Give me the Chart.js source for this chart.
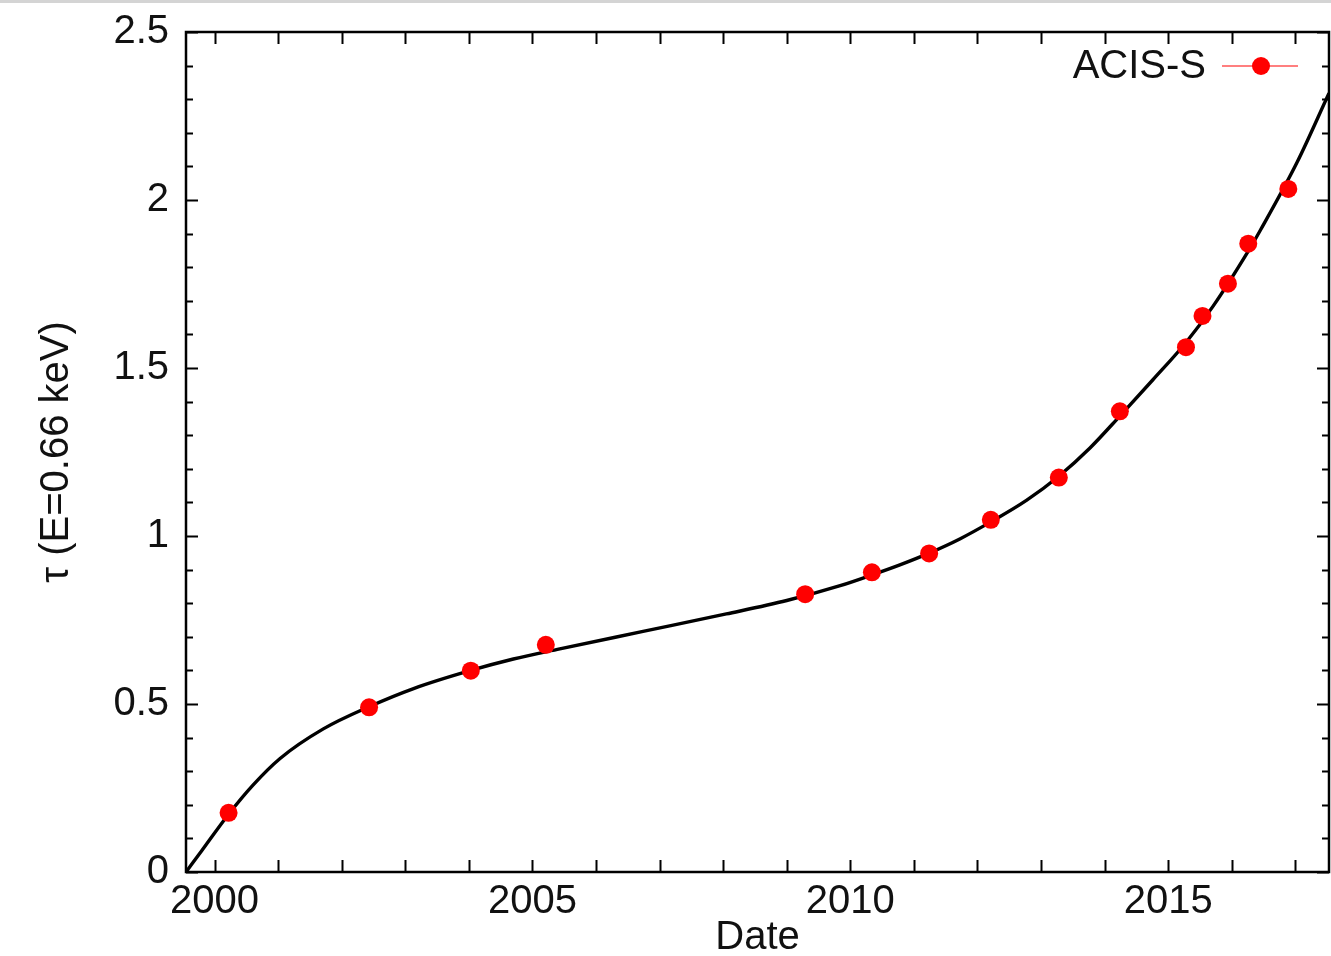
<!DOCTYPE html>
<html>
<head>
<meta charset="utf-8">
<script src="https://cdn.jsdelivr.net/npm/chart.js@4.4.0/dist/chart.umd.min.js"></script>
<style>
  html, body { margin: 0; padding: 0; background: #fff; overflow: hidden; }
  #wrap { width: 1338px; height: 956px; position: relative; }
</style>
</head>
<body>
<div id="wrap"><canvas id="chart"></canvas></div>
<script>
// measured ACIS-S points
const obsDates = [2000.22, 2002.43, 2004.03, 2005.21, 2009.29, 2010.34, 2011.24, 2012.21,
                  2013.28, 2014.24, 2015.28, 2015.54, 2015.94, 2016.26, 2016.89];
const obsTau = [0.176, 0.490, 0.599, 0.676, 0.827, 0.892, 0.948, 1.048,
                1.174, 1.371, 1.562, 1.655, 1.751, 1.870, 2.033];

// fitted curve
const fitDates = [1999.55, 1999.80, 2000.22, 2000.60, 2001.03, 2001.71, 2002.43, 2003.13,
                  2004.03, 2004.70, 2005.43, 2006.74, 2008.05, 2009.00, 2009.84, 2010.34,
                  2010.78, 2011.24, 2011.73, 2012.21, 2012.77, 2013.28, 2013.77, 2014.24,
                  2014.76, 2015.28, 2015.71, 2016.26, 2016.45, 2017.03, 2017.53];
const fitTau = [0, 0.064, 0.172, 0.258, 0.338, 0.426, 0.492, 0.546,
                0.600, 0.634, 0.664, 0.716, 0.768, 0.808, 0.852, 0.884,
                0.914, 0.949, 0.992, 1.042, 1.106, 1.178, 1.262, 1.357,
                1.465, 1.576, 1.685, 1.848, 1.910, 2.113, 2.318];

const xMajorTicks = [2000, 2005, 2010, 2015];
const xMinorTicks = [2000, 2001, 2002, 2003, 2004, 2005, 2006, 2007, 2008, 2009,
                     2010, 2011, 2012, 2013, 2014, 2015, 2016, 2017];
const yMajorTicks = [0, 0.5, 1, 1.5, 2, 2.5];
const yMinorTicks = [0.1, 0.2, 0.3, 0.4, 0.6, 0.7, 0.8, 0.9, 1.1, 1.2, 1.3, 1.4,
                     1.6, 1.7, 1.8, 1.9, 2.1, 2.2, 2.3, 2.4];

const FONT = "'Liberation Sans', Arial, Helvetica, sans-serif";

const toPoints = (xs, ys) => xs.map((x, i) => ({ x: x, y: ys[i] }));

// white page, grey strip on top, frame and inward ticks on all four sides
const framePlugin = {
  id: 'frame',
  beforeDraw(chart) {
    const ctx = chart.ctx;
    ctx.save();
    ctx.fillStyle = '#fff';
    ctx.fillRect(0, 0, chart.width, chart.height);
    ctx.fillStyle = '#d4d4d4';
    ctx.fillRect(0, 0, chart.width, 3);
    ctx.restore();
  },
  afterDatasetsDraw(chart) {
    const { ctx, chartArea: a, scales: { x, y } } = chart;
    ctx.save();
    ctx.strokeStyle = '#000';
    ctx.lineWidth = 2;
    ctx.beginPath();
    xMinorTicks.forEach(v => {
      const px = Math.round(x.getPixelForValue(v)) + 0.5;
      ctx.moveTo(px, a.bottom); ctx.lineTo(px, a.bottom - 12);
      ctx.moveTo(px, a.top); ctx.lineTo(px, a.top + 12);
    });
    yMajorTicks.forEach(v => {
      const py = Math.round(y.getPixelForValue(v)) + 0.5;
      ctx.moveTo(a.left, py); ctx.lineTo(a.left + 12, py);
      ctx.moveTo(a.right, py); ctx.lineTo(a.right - 12, py);
    });
    yMinorTicks.forEach(v => {
      const py = Math.round(y.getPixelForValue(v)) + 0.5;
      ctx.moveTo(a.left, py); ctx.lineTo(a.left + 7, py);
      ctx.moveTo(a.right, py); ctx.lineTo(a.right - 7, py);
    });
    ctx.stroke();
    ctx.lineWidth = 2.5;
    ctx.strokeRect(a.left, a.top, a.right - a.left, a.bottom - a.top);
    ctx.restore();
  },
  afterDraw(chart) {
    // key in the top right corner: label, thin red line through a dot
    const ctx = chart.ctx;
    const ly = 66;
    ctx.save();
    ctx.font = '40px ' + FONT;
    ctx.fillStyle = '#111';
    ctx.textAlign = 'right';
    ctx.textBaseline = 'middle';
    ctx.fillText(chart.data.datasets[0].label, 1206, ly + 1);
    ctx.strokeStyle = '#ff0000';
    ctx.lineWidth = 1.2;
    ctx.beginPath();
    ctx.moveTo(1222, ly); ctx.lineTo(1298, ly);
    ctx.stroke();
    ctx.fillStyle = '#ff0000';
    ctx.beginPath();
    ctx.arc(1261, ly, 9, 0, Math.PI * 2);
    ctx.fill();
    ctx.restore();
  }
};

new Chart(document.getElementById('chart').getContext('2d'), {
  type: 'scatter',
  data: {
    datasets: [
      {
        label: 'ACIS-S',
        data: toPoints(obsDates, obsTau),
        backgroundColor: '#ff0000',
        borderColor: '#ff0000',
        pointRadius: 9,
        pointBorderWidth: 0,
        showLine: false,
        order: 0
      },
      {
        label: 'fit',
        type: 'line',
        data: toPoints(fitDates, fitTau),
        borderColor: '#000',
        borderWidth: 3.4,
        pointRadius: 0,
        fill: false,
        cubicInterpolationMode: 'monotone',
        order: 1
      }
    ]
  },
  options: {
    responsive: true,
    maintainAspectRatio: false,
    animation: false,
    devicePixelRatio: 1,
    layout: { padding: { top: 32, right: 2, left: 0, bottom: 0 } },
    plugins: { legend: { display: false }, tooltip: { enabled: false } },
    scales: {
      x: {
        type: 'linear',
        min: 1999.55,
        max: 2017.53,
        afterFit: s => { s.height = 84; s.paddingLeft = 0; s.paddingRight = 0; },
        afterBuildTicks: s => { s.ticks = xMajorTicks.map(v => ({ value: v })); },
        grid: { display: false, drawTicks: false },
        border: { display: false },
        ticks: {
          color: '#111',
          font: { family: FONT, size: 40 },
          padding: 6,
          maxRotation: 0,
          autoSkip: false,
          callback: v => String(v)
        },
        title: {
          display: true,
          text: 'Date',
          color: '#111',
          font: { family: FONT, size: 40, lineHeight: 0.9 },
          padding: { top: 0, bottom: 0 }
        }
      },
      y: {
        type: 'linear',
        min: 0,
        max: 2.5,
        afterFit: s => { s.width = 186; s.paddingTop = 0; s.paddingBottom = 0; },
        afterBuildTicks: s => { s.ticks = yMajorTicks.map(v => ({ value: v })); },
        grid: { display: false, drawTicks: false },
        border: { display: false },
        ticks: {
          color: '#111',
          font: { family: FONT, size: 40 },
          padding: 17,
          autoSkip: false,
          callback: v => String(v)
        },
        title: {
          display: true,
          text: 'τ (E=0.66 keV)',
          color: '#111',
          font: { family: FONT, size: 40 },
          padding: { top: 33, bottom: 0 }
        }
      }
    }
  },
  plugins: [framePlugin]
});
</script>
</body>
</html>
